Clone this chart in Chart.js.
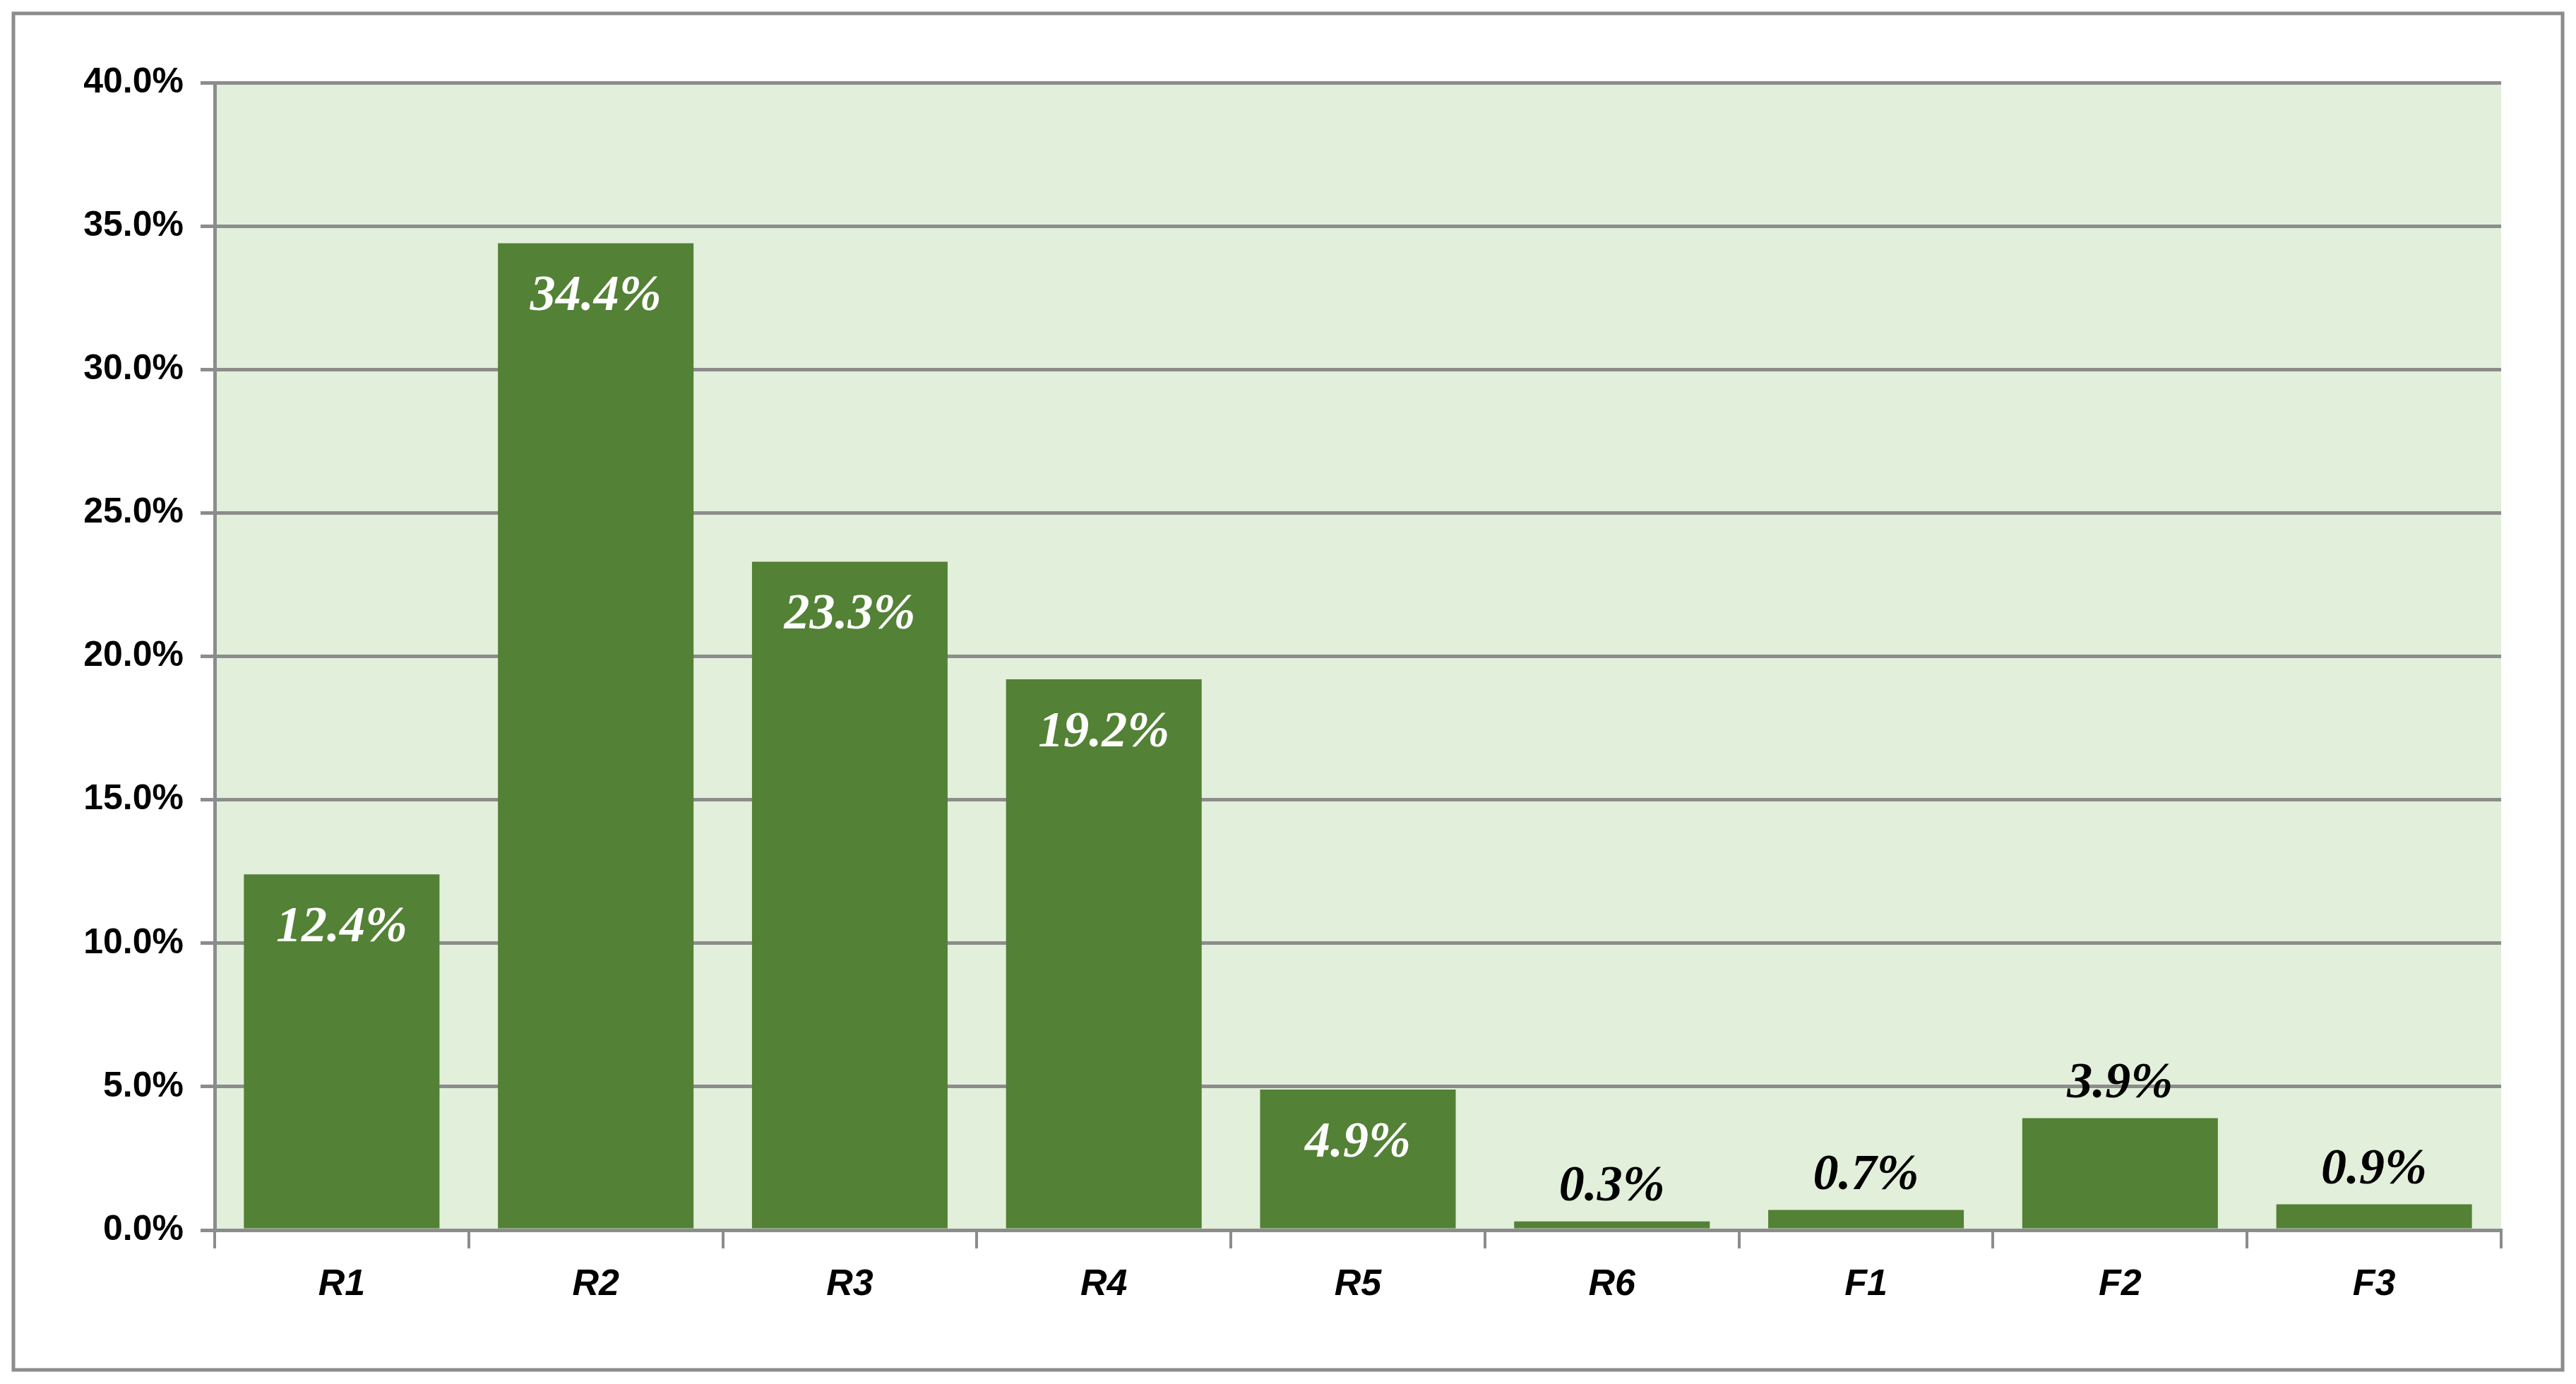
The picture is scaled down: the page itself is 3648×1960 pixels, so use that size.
<!DOCTYPE html>
<html>
<head>
<meta charset="utf-8">
<script src="https://cdn.jsdelivr.net/npm/chart.js@4"></script>
<style>
  html, body { margin: 0; padding: 0; background: #fff; }
  #wrap { position: absolute; left: 0; top: 0; width: 3648px; height: 1960px; }
</style>
</head>
<body>
<div id="wrap"><canvas id="myChart"></canvas></div>
<script>
const categories = ['R1', 'R2', 'R3', 'R4', 'R5', 'R6', 'F1', 'F2', 'F3'];
const shares = [12.4, 34.4, 23.3, 19.2, 4.9, 0.3, 0.7, 3.9, 0.9];
// labels drawn inside the bar (white) or above it (black)
const labelInside = [true, true, true, true, true, false, false, false, false];

const ctx = document.getElementById('myChart').getContext('2d');

const frame = {
    id: 'frame',
    beforeDraw(chart) {
        const c = chart.ctx;
        const a = chart.chartArea;
        c.save();
        c.fillStyle = '#E2EFDA';
        c.fillRect(a.left, a.top, a.right - a.left, a.bottom - a.top);
        c.strokeStyle = '#8C8C8C';
        c.lineWidth = 5;
        c.strokeRect(19, 19, 3610, 1921);
        c.restore();
    },
    afterDatasetsDraw(chart) {
        const c = chart.ctx;
        const meta = chart.getDatasetMeta(0);
        c.save();
        c.font = 'italic bold 72px "Liberation Serif"';
        c.textAlign = 'center';
        meta.data.forEach((bar, i) => {
            const txt = shares[i].toFixed(1) + '%';
            if (labelInside[i]) {
                c.fillStyle = '#FFFFFF';
                c.textBaseline = 'top';
                c.fillText(txt, bar.x, bar.y + 40);
            } else {
                c.fillStyle = '#000000';
                c.textBaseline = 'bottom';
                c.fillText(txt, bar.x, bar.y - 12);
            }
        });
        c.restore();
    }
};

const myChart = new Chart(ctx, {
    type: 'bar',
    data: {
        labels: categories,
        datasets: [{
            data: shares,
            backgroundColor: '#538135',
            barPercentage: 0.77,
            categoryPercentage: 1.0
        }]
    },
    options: {
        responsive: true,
        maintainAspectRatio: false,
        animation: false,
        layout: { padding: { top: 117, right: 106, left: 0, bottom: 0 } },
        plugins: { legend: { display: false }, tooltip: { enabled: false } },
        scales: {
            x: {
                grid: { display: true, drawOnChartArea: false, color: '#8C8C8C', lineWidth: 4, tickLength: 26, offset: true },
                border: { color: '#8C8C8C', width: 5 },
                ticks: { color: '#000', font: { family: '"Liberation Sans"', size: 52, weight: 'bold', style: 'italic' }, padding: 20 },
                afterFit(scale) { scale.height = 218; }
            },
            y: {
                min: 0, max: 40,
                ticks: {
                    stepSize: 5, color: '#000', padding: 24,
                    font: { family: '"Liberation Sans"', size: 50, weight: 'bold' },
                    callback: v => v.toFixed(1) + '%'
                },
                grid: { color: '#8C8C8C', lineWidth: 5, tickLength: 20 },
                border: { color: '#8C8C8C', width: 5 },
                afterFit(scale) { scale.width = 304; }
            }
        }
    },
    plugins: [frame]
});
</script>
</body>
</html>
